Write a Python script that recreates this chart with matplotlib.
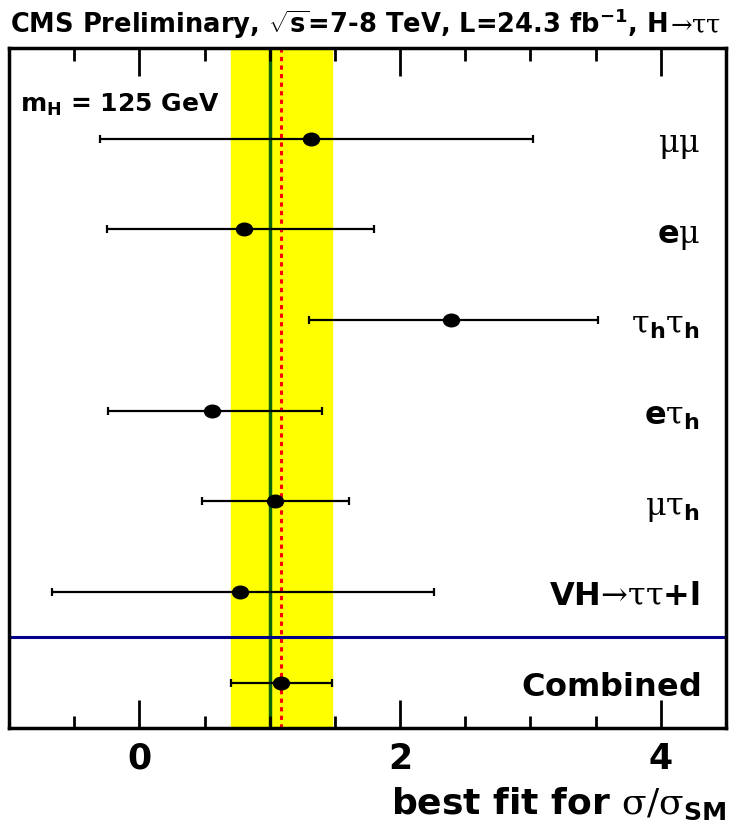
import matplotlib
matplotlib.use("Agg")
import matplotlib.pyplot as plt
from matplotlib.path import Path
from matplotlib.ticker import MultipleLocator

plt.rcParams['font.family'] = ['DejaVu Sans']
plt.rcParams['mathtext.fontset'] = 'custom'
plt.rcParams['mathtext.rm'] = 'DejaVu Serif:weight=normal'
plt.rcParams['mathtext.bf'] = 'DejaVu Sans:bold'
plt.rcParams['mathtext.it'] = 'DejaVu Sans:bold'
plt.rcParams['mathtext.sf'] = 'DejaVu Sans:bold'

# channels, top to bottom
channels = [r'$\mathrm{μμ}$', r'$\mathbf{e}\mathrm{μ}$',
            r'$\mathrm{τ}_{\mathbf{h}}\mathrm{τ}_{\mathbf{h}}$',
            r'$\mathbf{e}\mathrm{τ}_{\mathbf{h}}$',
            r'$\mathrm{μτ}_{\mathbf{h}}$',
            r'$\mathbf{VH}\mathrm{→ττ}\mathbf{+l}$',
            r'$\mathbf{Combined}$']
best = [1.32, 0.80, 2.39, 0.56, 1.04, 0.77, 1.09]
lo = [-0.30, -0.25, 1.30, -0.24, 0.48, -0.67, 0.70]
hi = [3.02, 1.80, 3.52, 1.40, 1.61, 2.26, 1.48]

comb_band = (0.70, 1.48)
sm_value = 1.0
comb_value = 1.09

fig = plt.figure(figsize=(7.29, 8.36), dpi=100)
ax = fig.add_axes([0.0123, 0.1292, 0.9835, 0.8134])

n = len(channels)
ypos = [n - 0.5 - i for i in range(n)]

ax.axvspan(comb_band[0], comb_band[1], color='#ffff00', zorder=0)
ax.axvline(sm_value, color='#0a650a', lw=2.5, zorder=1)
ax.axvline(comb_value, color='#ff0000', lw=2.2, ls=(0, (1.4, 1.4)), zorder=1)
ax.axhline(1.0, color='#00008b', lw=2.2, zorder=1)

# slightly wide ellipse marker
circ = Path.unit_circle()
ellipse = Path(circ.vertices * [1.27, 1.0], circ.codes)

xerr = [[b - l for b, l in zip(best, lo)], [h - b for b, h in zip(best, hi)]]
ax.errorbar(best, ypos, xerr=xerr, fmt='none', ecolor='black',
            elinewidth=1.6, capsize=3, capthick=1.6, zorder=3)
ax.plot(best, ypos, ls='none', marker=ellipse, ms=11.5, color='black', zorder=4)

for lab, y in zip(channels, ypos):
    ax.text(0.964, y - 0.15, lab, transform=ax.get_yaxis_transform(), ha='right',
            va='baseline', fontsize=23, fontweight='normal')

ax.text(0.015, 6.8, r'$\mathbf{m}_{\mathbf{H}}$' + ' = 125 GeV',
        transform=ax.get_yaxis_transform(), ha='left', va='baseline',
        fontsize=18, fontweight='bold')

ax.set_xlim(-1.0, 4.5)
ax.set_ylim(0, n + 0.5)
ax.xaxis.set_major_locator(MultipleLocator(2))
ax.xaxis.set_minor_locator(MultipleLocator(0.5))
ax.tick_params(axis='x', which='both', direction='in', top=True, bottom=True,
               width=2, labelsize=25, pad=10)
ax.tick_params(axis='x', which='major', length=20)
ax.tick_params(axis='x', which='minor', length=9)
ax.set_yticks([])
for s in ax.spines.values():
    s.set_linewidth(2.5)
for t in ax.get_xticklabels():
    t.set_fontweight('bold')

# title: bold part, then thin Greek part placed right after it
t1 = fig.text(10 / 729, 0.9605,
              r'CMS Preliminary, $\sqrt{\mathbf{s}}$=7-8 TeV, L=24.3 fb$^{\mathbf{-1}}$, H',
              ha='left', va='baseline', fontsize=18.5, fontweight='bold')
fig.canvas.draw()
bb = t1.get_window_extent()
fig.text(bb.x1 / fig.bbox.width + 0.003, 0.9605, r'$\mathrm{→ττ}$',
         ha='left', va='baseline', fontsize=18.5, fontweight='normal')

fig.text(0.997, 0.038, r'$\mathbf{best\ fit\ for\ }\mathrm{σ/σ}_{\mathbf{SM}}$',
         ha='right', va='center', fontsize=26, fontweight='normal')

fig.savefig('out.png', dpi=100)
